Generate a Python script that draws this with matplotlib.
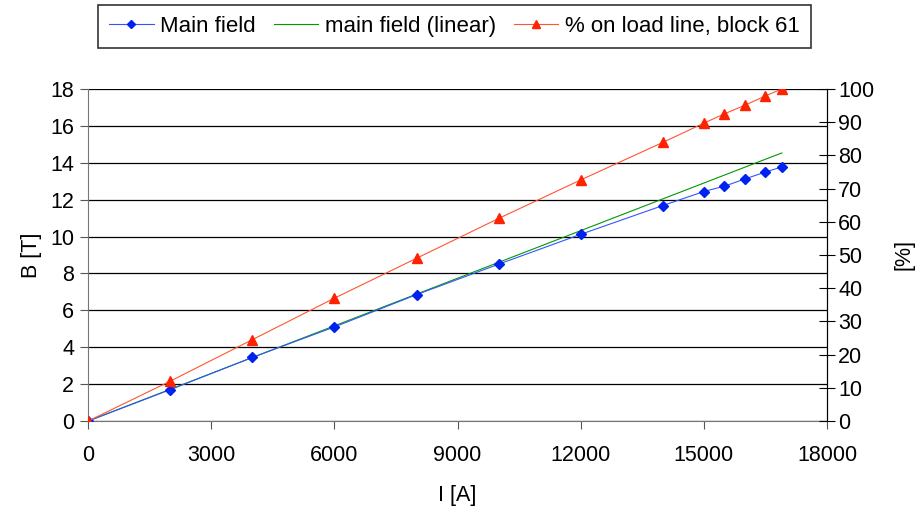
import matplotlib
matplotlib.use("Agg")
import matplotlib.pyplot as plt
from matplotlib.lines import Line2D

plt.rcParams['font.family'] = ['Liberation Sans', 'DejaVu Sans']

# currents [A]
current = [0, 2000, 4000, 6000, 8000, 10000, 12000, 14000, 15000, 15500, 16000, 16500, 16900]
# main field [T]
b_main = [0, 1.70, 3.45, 5.10, 6.85, 8.50, 10.12, 11.68, 12.44, 12.73, 13.12, 13.50, 13.77]
# linear main field [T]
b_linear = [0, 1.72, 3.44, 5.16, 6.88, 8.60, 10.32, 12.04, 12.90, 13.33, 13.76, 14.19, 14.53]
# % on load line
load_pct = [0, 12.0, 24.5, 37.0, 49.0, 61.0, 72.6, 83.9, 89.7, 92.5, 95.1, 97.9, 100]

x_ticks = [0, 3000, 6000, 9000, 12000, 15000, 18000]
b_ticks = list(range(0, 19, 2))
pct_ticks = list(range(0, 101, 10))

fig = plt.figure(figsize=(9.2, 5.11), dpi=100)
ax = fig.add_axes([0.0957, 0.176, 0.8033, 0.650])
ax2 = ax.twinx()

fs = 15.5
ax.set_xlim(0, 18000)
ax.set_ylim(0, 18)
ax2.set_ylim(0, 100)

for v in b_ticks:
    ax.axhline(v, color='black', lw=0.9, zorder=0)

ax.plot(current, b_linear, color='#009900', lw=0.8, zorder=2)
ax.plot(current, b_main, color='#3355ff', lw=0.8, marker='D', ms=5,
        mfc='#0022ee', mec='#0022ee', zorder=3)
ax2.plot(current, load_pct, color='#ff5533', lw=0.8, marker='^', ms=7,
         mfc='#ff2200', mec='#ff2200', zorder=3)

ax.set_xticks(x_ticks)
ax.set_yticks(b_ticks)
ax2.set_yticks(pct_ticks)
ax.tick_params(axis='x', direction='out', length=6, labelsize=fs, pad=11, color='#555555')
ax.tick_params(axis='y', direction='out', length=6, labelsize=fs, pad=4, color='#555555')
ax2.tick_params(axis='y', direction='inout', length=12, labelsize=fs, pad=2)

ax.spines['top'].set_visible(False)
ax2.spines['top'].set_visible(False)
ax.spines['left'].set_color('#777777')
ax.spines['bottom'].set_color('#777777')
ax2.spines['left'].set_visible(False)
ax2.spines['bottom'].set_visible(False)
ax2.spines['right'].set_color('black')

ax.set_xlabel('I [A]', fontsize=fs, labelpad=14)
ax.set_ylabel('B [T]', fontsize=fs, labelpad=6)
ax2.set_ylabel('[%]', fontsize=fs, labelpad=14)

handles = [
    Line2D([], [], color='#3355ff', lw=0.8, marker='D', ms=4, mfc='#0022ee', mec='#0022ee'),
    Line2D([], [], color='#009900', lw=0.8),
    Line2D([], [], color='#ff5533', lw=0.8, marker='^', ms=6, mfc='#ff2200', mec='#ff2200'),
]
labels = ['Main field', 'main field (linear)', '% on load line, block 61']
leg = fig.legend(handles, labels, loc='upper center', bbox_to_anchor=(0.494, 0.99),
                 ncol=3, fontsize=16, frameon=True, fancybox=False, edgecolor='black',
                 handlelength=2.0, handletextpad=0.3, columnspacing=0.8,
                 borderpad=0.5, borderaxespad=0)
leg.get_frame().set_linewidth(1.2)

fig.savefig('out.png', dpi=100)
